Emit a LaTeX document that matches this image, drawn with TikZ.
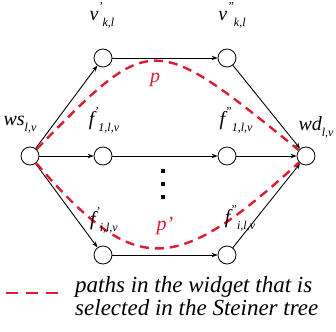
\documentclass[tikz,border=0pt]{standalone}
\usepackage{fontspec}
\setmainfont{Liberation Serif}
\usetikzlibrary{arrows.meta}
\definecolor{pathred}{RGB}{222,28,48}
% label with prime(s) and subscript
\newcommand{\wlab}[3]{#1\raisebox{0.5em}{\fontsize{12}{12}\selectfont#2}\raisebox{-0.3em}{\fontsize{12}{12}\selectfont#3}}

\begin{document}
\begin{tikzpicture}[
    x=1pt, y=-1pt,
    vertex/.style={
        draw, circle,
        minimum size=18pt,
        inner sep=0pt,
        line width=0.8pt,
        fill=white
    },
    edge/.style={draw, line width=0.9pt, -{Stealth[length=6pt,width=4.5pt]}},
    chosen/.style={draw=pathred, line width=2.4pt, dash pattern=on 9pt off 6pt},
    lab/.style={font=\fontsize{20}{22}\selectfont\itshape, inner sep=0pt},
    note/.style={
        font=\fontsize{23}{23}\selectfont\itshape,
        align=left,
        inner sep=0pt
    }
]
\useasboundingbox (0,0) rectangle (336,331);

\node[vertex] (ws) at (30,156) {};
\node[vertex] (wd) at (306,156) {};
\node[vertex] (vtl) at (103,58) {};
\node[vertex] (vtr) at (227,58) {};
\node[vertex] (fml) at (103,156) {};
\node[vertex] (fmr) at (227,156) {};
\node[vertex] (fbl) at (103,255) {};
\node[vertex] (fbr) at (227,255) {};

\draw[edge] (ws) -- (vtl);
\draw[edge] (vtl) -- (vtr);
\draw[edge] (vtr) -- (wd);
\draw[edge] (ws) -- (fml);
\draw[edge] (fml) -- (fmr);
\draw[edge] (fmr) -- (wd);
\draw[edge] (ws) -- (fbl);
\draw[edge] (fbl) -- (fbr);
\draw[edge] (fbr) -- (wd);

\foreach \y in {171,184,197}
    \fill (161,\y-2) rectangle (165,\y+2);

% selected paths
\draw[chosen] (ws) .. controls (152,31) and (152,31) .. (wd);
\draw[chosen] (ws) .. controls (135,277) and (174,277) .. (wd);

\node[lab] (lvtl) at (102,15) {\wlab{v}{'}{k,l}};
\node[lab] (lvtr) at (232,15) {\wlab{v}{''}{k,l}};
\node[lab] (lws) at (20,124) {\wlab{ws}{}{l,v}};
\node[lab] (lwd) at (316,127) {\wlab{wd}{}{l,v}};
\node[lab] (lfml) at (104,120) {\wlab{f}{'}{1,l,v}};
\node[lab] (lfmr) at (236,120) {\wlab{f}{''}{1,l,v}};
\node[lab] (lfbl) at (104,220) {\wlab{f}{'}{i,l,v}};
\node[lab] (lfbr) at (240,218) {\wlab{f}{''}{i,l,v}};
\node[lab, text=pathred] (lp) at (155,80) {p};
\node[lab, text=pathred] (lpp) at (165,226) {p'};

% legend
\coordinate (leg1) at (6,293);
\coordinate (leg2) at (58,293);
\draw[chosen, dash pattern=on 12pt off 8pt] (leg1) -- (leg2);
\node[note, anchor=west] (legtext) at (75,296) {paths in the widget that is\\selected in the Steiner tree};

\end{tikzpicture}
\end{document}
